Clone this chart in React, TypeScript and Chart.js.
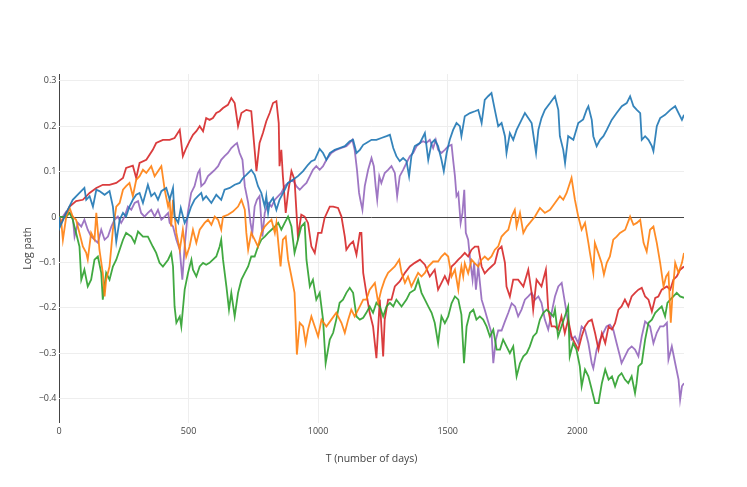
import React, { useEffect, useRef } from "react";
import Chart from "chart.js/auto";

type Pt = [number, number];

const traceColors = [
  "rgba(31,119,180,0.9)",
  "rgba(255,127,14,0.9)",
  "rgba(44,160,44,0.9)",
  "rgba(214,39,40,0.9)",
  "rgba(148,103,189,0.9)",
];
const xTicks = [0, 500, 1000, 1500, 2000];
const yTicks = [-0.4, -0.3, -0.2, -0.1, 0, 0.1, 0.2, 0.3];
const xMax = 2412;

// [day, log path]
const bluePath: Pt[] = [[0,0],[2,-0.024],[28,0.009],[53,0.038],[79,0.053],[98,0.064],[105,0.038],[118,0.046],[131,0.023],[144,0.060],[156,0.057],[176,0.049],[195,0.057],[208,0.023],[221,-0.054],[234,-0.006],[247,0.009],[259,0.001],[272,0.023],[285,0.038],[298,0.049],[311,0.053],[324,0.031],[343,0.071],[356,0.046],[369,0.053],[382,0.038],[395,0.057],[414,0.064],[427,0.038],[440,0.064],[446,0.001],[460,-0.013],[470,0.020],[485,-0.013],[497,0.001],[510,0.023],[523,0.038],[536,0.046],[549,0.053],[556,0.038],[568,0.046],[588,0.031],[607,0.049],[626,0.038],[639,0.060],[659,0.064],[678,0.071],[697,0.075],[710,0.086],[723,0.093],[742,0.104],[755,0.093],[768,0.068],[781,0.053],[794,0.023],[800,0.046],[807,0.009],[813,0.031],[826,0.042],[839,0.016],[851,0.038],[871,0.060],[884,0.075],[903,0.082],[922,0.090],[942,0.101],[961,0.115],[974,0.123],[987,0.126],[1006,0.150],[1019,0.141],[1032,0.126],[1045,0.141],[1064,0.148],[1083,0.152],[1103,0.156],[1122,0.167],[1135,0.170],[1148,0.141],[1161,0.148],[1174,0.159],[1186,0.163],[1206,0.170],[1225,0.170],[1244,0.174],[1264,0.178],[1277,0.181],[1290,0.152],[1302,0.134],[1315,0.123],[1328,0.130],[1341,0.123],[1351,0.090],[1360,0.134],[1373,0.156],[1393,0.163],[1412,0.185],[1425,0.126],[1438,0.163],[1450,0.170],[1463,0.156],[1476,0.126],[1485,0.101],[1496,0.141],[1508,0.170],[1521,0.192],[1534,0.207],[1547,0.200],[1553,0.178],[1566,0.222],[1586,0.229],[1605,0.233],[1618,0.236],[1631,0.207],[1643,0.258],[1656,0.266],[1669,0.273],[1682,0.236],[1695,0.200],[1708,0.207],[1721,0.178],[1727,0.141],[1740,0.185],[1753,0.170],[1766,0.192],[1785,0.214],[1798,0.229],[1811,0.218],[1824,0.207],[1841,0.141],[1850,0.192],[1862,0.218],[1875,0.236],[1895,0.251],[1914,0.266],[1927,0.236],[1933,0.178],[1946,0.148],[1953,0.119],[1965,0.178],[1985,0.170],[2004,0.207],[2023,0.215],[2036,0.236],[2043,0.244],[2056,0.214],[2062,0.178],[2075,0.156],[2088,0.170],[2101,0.178],[2114,0.192],[2133,0.214],[2152,0.229],[2172,0.244],[2191,0.251],[2204,0.266],[2217,0.244],[2230,0.236],[2243,0.229],[2249,0.170],[2262,0.178],[2275,0.170],[2288,0.156],[2294,0.145],[2307,0.200],[2320,0.218],[2339,0.225],[2359,0.236],[2378,0.244],[2391,0.229],[2404,0.214],[2412,0.225]];

const orangePath: Pt[] = [[0,0],[8,-0.006],[15,-0.050],[28,0.001],[41,0.020],[53,0.001],[66,-0.006],[79,-0.035],[92,-0.065],[105,-0.079],[111,-0.094],[124,-0.035],[137,-0.050],[144,0.009],[156,-0.072],[169,-0.123],[176,-0.175],[182,-0.138],[195,-0.109],[208,-0.028],[221,0.023],[234,0.031],[247,0.060],[259,0.068],[272,0.075],[285,0.046],[298,0.082],[311,0.090],[324,0.104],[337,0.097],[356,0.112],[369,0.090],[382,0.101],[395,0.112],[408,0.060],[421,0.023],[427,0.038],[433,-0.021],[440,0.038],[453,-0.035],[466,-0.072],[478,-0.028],[491,-0.087],[504,-0.065],[517,-0.028],[530,-0.057],[543,-0.028],[562,-0.013],[575,-0.006],[588,-0.017],[601,0.001],[614,-0.006],[626,-0.028],[633,0.001],[652,0.005],[671,0.012],[691,0.023],[704,0.038],[717,0.016],[723,-0.035],[730,-0.072],[742,-0.035],[755,-0.050],[768,-0.065],[781,-0.035],[794,-0.021],[807,-0.013],[820,-0.006],[833,-0.035],[839,-0.013],[850,-0.079],[855,-0.109],[864,-0.050],[875,-0.043],[884,-0.094],[897,-0.131],[909,-0.167],[918,-0.303],[929,-0.233],[942,-0.241],[952,-0.278],[961,-0.248],[974,-0.219],[987,-0.241],[1000,-0.263],[1013,-0.226],[1032,-0.241],[1051,-0.226],[1070,-0.211],[1090,-0.233],[1103,-0.255],[1116,-0.226],[1128,-0.204],[1141,-0.219],[1161,-0.197],[1174,-0.182],[1186,-0.182],[1199,-0.160],[1219,-0.145],[1232,-0.189],[1244,-0.160],[1257,-0.138],[1270,-0.123],[1283,-0.116],[1296,-0.109],[1313,-0.094],[1322,-0.123],[1335,-0.145],[1347,-0.131],[1360,-0.153],[1373,-0.138],[1386,-0.123],[1399,-0.131],[1412,-0.123],[1425,-0.109],[1444,-0.098],[1463,-0.098],[1476,-0.087],[1489,-0.080],[1502,-0.087],[1515,-0.131],[1528,-0.116],[1541,-0.160],[1547,-0.131],[1553,-0.109],[1560,-0.131],[1566,-0.102],[1579,-0.124],[1592,-0.094],[1605,-0.102],[1618,-0.109],[1631,-0.094],[1643,-0.087],[1656,-0.094],[1669,-0.087],[1682,-0.072],[1695,-0.065],[1708,-0.043],[1721,-0.035],[1734,-0.028],[1747,0.001],[1759,0.016],[1766,-0.021],[1779,0.009],[1792,-0.035],[1805,-0.021],[1817,-0.013],[1837,0.001],[1856,0.020],[1875,0.009],[1895,0.016],[1914,0.031],[1933,0.046],[1946,0.038],[1959,0.053],[1978,0.086],[1991,0.038],[2004,0.001],[2017,-0.028],[2030,-0.013],[2043,-0.057],[2049,-0.079],[2062,-0.123],[2068,-0.057],[2081,-0.079],[2094,-0.101],[2103,-0.127],[2114,-0.101],[2126,-0.087],[2139,-0.050],[2152,-0.043],[2165,-0.035],[2185,-0.028],[2204,0.001],[2217,-0.017],[2230,-0.013],[2243,-0.006],[2256,-0.057],[2268,-0.076],[2281,-0.028],[2294,-0.021],[2307,-0.057],[2320,-0.101],[2333,-0.153],[2343,-0.131],[2352,-0.123],[2361,-0.233],[2368,-0.167],[2378,-0.101],[2391,-0.123],[2404,-0.101],[2412,-0.079]];

const greenPath: Pt[] = [[0,0],[28,0.001],[41,0.009],[53,-0.006],[66,-0.035],[79,-0.065],[86,-0.138],[98,-0.116],[111,-0.153],[124,-0.138],[137,-0.094],[150,-0.087],[163,-0.123],[169,-0.182],[182,-0.123],[195,-0.138],[208,-0.109],[221,-0.094],[234,-0.072],[247,-0.050],[259,-0.035],[279,-0.043],[292,-0.057],[305,-0.032],[324,-0.043],[343,-0.043],[362,-0.065],[375,-0.079],[388,-0.101],[401,-0.109],[421,-0.094],[433,-0.079],[440,-0.109],[446,-0.197],[453,-0.233],[466,-0.219],[472,-0.241],[485,-0.160],[498,-0.123],[511,-0.094],[517,-0.116],[530,-0.131],[543,-0.109],[556,-0.101],[568,-0.105],[581,-0.101],[594,-0.094],[607,-0.087],[620,-0.065],[626,-0.050],[633,-0.094],[646,-0.153],[656,-0.204],[665,-0.167],[678,-0.219],[691,-0.167],[704,-0.138],[717,-0.123],[730,-0.109],[742,-0.087],[755,-0.087],[768,-0.065],[781,-0.050],[794,-0.043],[807,-0.035],[820,-0.028],[833,-0.021],[846,-0.013],[858,-0.028],[871,-0.013],[884,0.001],[897,-0.021],[909,-0.079],[922,-0.050],[935,-0.021],[948,-0.013],[955,-0.094],[968,-0.153],[980,-0.138],[993,-0.182],[1006,-0.167],[1019,-0.226],[1029,-0.322],[1045,-0.270],[1058,-0.255],[1070,-0.226],[1083,-0.189],[1096,-0.182],[1109,-0.167],[1122,-0.156],[1135,-0.167],[1148,-0.219],[1161,-0.226],[1174,-0.222],[1186,-0.211],[1199,-0.197],[1212,-0.211],[1225,-0.189],[1238,-0.197],[1251,-0.219],[1264,-0.197],[1277,-0.189],[1290,-0.197],[1302,-0.182],[1322,-0.197],[1341,-0.182],[1354,-0.167],[1373,-0.160],[1386,-0.138],[1399,-0.167],[1412,-0.182],[1425,-0.197],[1438,-0.211],[1450,-0.233],[1463,-0.278],[1476,-0.219],[1489,-0.234],[1502,-0.219],[1515,-0.190],[1528,-0.175],[1541,-0.182],[1553,-0.215],[1563,-0.322],[1573,-0.241],[1586,-0.211],[1599,-0.204],[1611,-0.226],[1624,-0.219],[1637,-0.226],[1650,-0.241],[1663,-0.263],[1676,-0.248],[1689,-0.292],[1702,-0.292],[1714,-0.270],[1727,-0.285],[1740,-0.300],[1753,-0.285],[1766,-0.351],[1779,-0.322],[1792,-0.307],[1805,-0.300],[1817,-0.285],[1830,-0.263],[1843,-0.255],[1856,-0.226],[1869,-0.211],[1882,-0.204],[1895,-0.211],[1908,-0.219],[1914,-0.204],[1926,-0.263],[1939,-0.241],[1952,-0.219],[1965,-0.197],[1971,-0.307],[1984,-0.278],[1997,-0.292],[2010,-0.329],[2017,-0.373],[2030,-0.336],[2043,-0.351],[2056,-0.380],[2069,-0.410],[2082,-0.410],[2095,-0.366],[2108,-0.336],[2121,-0.358],[2134,-0.351],[2146,-0.373],[2159,-0.351],[2171,-0.344],[2184,-0.358],[2197,-0.366],[2210,-0.351],[2223,-0.388],[2229,-0.366],[2236,-0.329],[2249,-0.322],[2262,-0.270],[2275,-0.233],[2288,-0.226],[2301,-0.211],[2313,-0.204],[2326,-0.197],[2339,-0.219],[2348,-0.189],[2359,-0.182],[2371,-0.175],[2384,-0.167],[2397,-0.175],[2412,-0.178]];

const redPath: Pt[] = [[0,0],[8,-0.013],[41,0.023],[66,0.035],[92,0.038],[118,0.053],[144,0.064],[169,0.071],[195,0.071],[221,0.075],[247,0.086],[259,0.108],[285,0.113],[298,0.086],[311,0.119],[337,0.126],[362,0.148],[375,0.163],[401,0.170],[427,0.170],[446,0.174],[466,0.192],[478,0.134],[491,0.152],[504,0.167],[517,0.181],[530,0.189],[543,0.200],[556,0.189],[568,0.218],[581,0.214],[594,0.218],[607,0.229],[620,0.233],[633,0.240],[652,0.247],[665,0.262],[678,0.251],[691,0.200],[704,0.229],[723,0.236],[742,0.233],[755,0.148],[762,0.101],[774,0.163],[787,0.185],[800,0.211],[813,0.229],[826,0.251],[839,0.255],[848,0.207],[851,0.112],[858,0.148],[864,0.090],[875,0.009],[884,0.053],[897,0.101],[909,0.082],[922,-0.043],[935,0.005],[948,0.001],[961,-0.013],[974,-0.065],[987,-0.079],[1000,-0.035],[1013,-0.035],[1025,-0.002],[1045,0.023],[1058,0.023],[1077,0.020],[1090,0.001],[1103,-0.043],[1109,-0.072],[1122,-0.061],[1135,-0.054],[1148,-0.083],[1161,-0.035],[1167,-0.035],[1174,-0.123],[1186,-0.167],[1199,-0.211],[1212,-0.241],[1225,-0.311],[1238,-0.182],[1251,-0.307],[1257,-0.226],[1270,-0.182],[1283,-0.182],[1296,-0.153],[1315,-0.142],[1335,-0.123],[1354,-0.109],[1373,-0.101],[1393,-0.094],[1412,-0.105],[1431,-0.131],[1450,-0.116],[1463,-0.160],[1476,-0.145],[1489,-0.130],[1502,-0.146],[1515,-0.109],[1528,-0.102],[1541,-0.094],[1553,-0.087],[1566,-0.079],[1579,-0.087],[1592,-0.072],[1605,-0.065],[1618,-0.065],[1631,-0.109],[1643,-0.124],[1656,-0.116],[1669,-0.109],[1682,-0.102],[1695,-0.072],[1708,-0.065],[1721,-0.101],[1727,-0.153],[1740,-0.175],[1753,-0.138],[1772,-0.138],[1792,-0.153],[1811,-0.116],[1824,-0.167],[1830,-0.204],[1843,-0.138],[1862,-0.153],[1879,-0.116],[1888,-0.204],[1901,-0.241],[1914,-0.241],[1926,-0.248],[1939,-0.219],[1952,-0.256],[1965,-0.226],[1978,-0.263],[1991,-0.278],[2004,-0.292],[2017,-0.263],[2030,-0.241],[2043,-0.230],[2056,-0.226],[2069,-0.256],[2082,-0.292],[2095,-0.256],[2108,-0.278],[2121,-0.241],[2134,-0.248],[2146,-0.234],[2159,-0.204],[2171,-0.197],[2184,-0.182],[2197,-0.197],[2210,-0.175],[2223,-0.167],[2236,-0.160],[2249,-0.156],[2262,-0.175],[2275,-0.182],[2288,-0.208],[2301,-0.178],[2313,-0.175],[2326,-0.160],[2346,-0.153],[2359,-0.160],[2371,-0.138],[2384,-0.131],[2397,-0.116],[2412,-0.109]];

const purplePath: Pt[] = [[0,0],[15,0.001],[28,0.012],[41,0.009],[53,0.001],[60,-0.043],[73,-0.013],[86,-0.021],[98,-0.006],[111,-0.028],[124,-0.043],[137,-0.050],[150,-0.057],[163,-0.028],[176,-0.050],[189,-0.043],[202,-0.021],[214,-0.006],[227,0.001],[240,-0.013],[253,0.001],[266,0.023],[279,0.016],[292,0.031],[305,0.035],[317,0.009],[330,0.001],[343,0.009],[356,0.016],[369,0.001],[382,0.016],[395,-0.006],[408,0.001],[421,0.009],[427,-0.013],[440,-0.021],[453,-0.050],[466,-0.072],[476,-0.138],[485,-0.065],[497,0.009],[510,0.053],[523,0.068],[536,0.097],[543,0.104],[549,0.068],[562,0.075],[575,0.090],[588,0.097],[601,0.104],[614,0.112],[626,0.126],[639,0.134],[652,0.141],[665,0.152],[678,0.159],[687,0.163],[697,0.141],[708,0.126],[717,0.068],[730,0.031],[739,-0.013],[746,-0.035],[755,0.023],[764,0.038],[774,0.046],[785,-0.043],[794,0.009],[807,0.031],[820,0.023],[833,0.038],[846,0.046],[858,0.053],[871,0.068],[884,0.075],[903,0.082],[916,0.068],[929,0.060],[942,0.068],[955,0.075],[968,0.090],[980,0.104],[993,0.112],[1006,0.104],[1019,0.112],[1032,0.126],[1051,0.141],[1070,0.148],[1090,0.152],[1109,0.156],[1122,0.163],[1132,0.170],[1141,0.148],[1150,0.104],[1158,0.053],[1163,0.038],[1171,0.016],[1180,0.068],[1193,0.104],[1206,0.130],[1215,0.112],[1222,0.068],[1228,0.038],[1236,0.090],[1244,0.075],[1257,0.097],[1270,0.104],[1283,0.112],[1296,0.097],[1305,0.046],[1315,0.090],[1328,0.104],[1341,0.119],[1354,0.134],[1367,0.141],[1380,0.156],[1393,0.163],[1405,0.167],[1418,0.163],[1431,0.170],[1444,0.152],[1454,0.170],[1463,0.148],[1476,0.141],[1489,0.148],[1502,0.156],[1515,0.159],[1521,0.126],[1528,0.090],[1534,0.046],[1541,0.053],[1550,-0.013],[1557,0.009],[1564,0.060],[1570,-0.035],[1579,-0.050],[1588,-0.101],[1596,-0.138],[1602,-0.101],[1609,-0.160],[1618,-0.109],[1631,-0.182],[1643,-0.204],[1656,-0.230],[1669,-0.255],[1676,-0.322],[1686,-0.270],[1695,-0.250],[1708,-0.250],[1721,-0.230],[1734,-0.211],[1747,-0.190],[1760,-0.197],[1772,-0.219],[1785,-0.204],[1798,-0.182],[1811,-0.175],[1824,-0.167],[1837,-0.182],[1850,-0.175],[1862,-0.189],[1875,-0.226],[1888,-0.248],[1901,-0.211],[1914,-0.175],[1927,-0.153],[1940,-0.145],[1953,-0.190],[1965,-0.234],[1978,-0.270],[1991,-0.263],[2004,-0.278],[2017,-0.241],[2030,-0.248],[2043,-0.278],[2056,-0.322],[2062,-0.333],[2075,-0.292],[2088,-0.270],[2100,-0.256],[2113,-0.241],[2126,-0.237],[2139,-0.248],[2152,-0.278],[2165,-0.307],[2171,-0.322],[2184,-0.307],[2197,-0.292],[2210,-0.285],[2223,-0.292],[2236,-0.307],[2249,-0.263],[2262,-0.230],[2268,-0.233],[2281,-0.241],[2294,-0.278],[2307,-0.255],[2320,-0.241],[2333,-0.241],[2346,-0.233],[2352,-0.314],[2365,-0.285],[2378,-0.322],[2391,-0.358],[2397,-0.402],[2404,-0.373],[2412,-0.366]];

const paths = [bluePath, orangePath, greenPath, redPath, purplePath];

const fmtY = (v: number) => {
  const r = Math.round(v * 10) / 10;
  if (r === 0) return "0";
  return (r < 0 ? "\u2212" : "") + Math.abs(r).toFixed(1);
};

export default function App() {
  const canvasRef = useRef<HTMLCanvasElement>(null);

  useEffect(() => {
    document.body.style.margin = "0";
    if (!canvasRef.current) return;
    const tickFont = { family: "'Open Sans', sans-serif", size: 9 };
    const titleFont = { family: "'Open Sans', sans-serif", size: 10.5 };

    const chart = new Chart(canvasRef.current, {
      type: "line",
      data: {
        datasets: paths.map((p, i) => ({
          label: `trace ${i}`,
          data: p as any,
          borderColor: traceColors[i],
          borderWidth: 1.8,
          pointRadius: 0,
          tension: 0,
          fill: false,
        })),
      },
      options: {
        responsive: false,
        animation: false,
        layout: { padding: { top: 74, right: 63, left: 0, bottom: 0 } },
        plugins: { legend: { display: false }, tooltip: { enabled: false } },
        scales: {
          x: {
            type: "linear",
            min: 0,
            max: xMax,
            afterFit: (s: any) => {
              s.height = 64;
            },
            afterBuildTicks: (s: any) => {
              s.ticks = xTicks.map((v) => ({ value: v }));
            },
            border: { display: false },
            grid: {
              drawTicks: false,
              color: (c: any) => (c.tick && c.tick.value === 0 ? "#444444" : "#eeeeee"),
              lineWidth: 1,
            },
            ticks: {
              padding: 3,
              color: "#444",
              font: tickFont,
              maxRotation: 0,
              callback: (v: any) => String(v),
            },
            title: {
              display: true,
              text: "T (number of days)",
              color: "#444",
              font: titleFont,
              padding: { top: 0, bottom: 21.7 },
            },
          },
          y: {
            type: "linear",
            min: -0.4537,
            max: 0.315,
            afterFit: (s: any) => {
              s.width = 59;
            },
            afterBuildTicks: (s: any) => {
              s.ticks = yTicks.map((v) => ({ value: v }));
            },
            border: { display: false },
            grid: {
              drawTicks: false,
              color: (c: any) => (c.tick && Math.abs(c.tick.value) < 1e-9 ? "#444444" : "#eeeeee"),
              lineWidth: 1,
            },
            ticks: {
              padding: 2.5,
              color: "#444",
              font: tickFont,
              callback: (v: any) => fmtY(Number(v)),
            },
            title: {
              display: true,
              text: "Log path",
              color: "#444",
              font: titleFont,
              padding: { top: 21.7, bottom: 0 },
            },
          },
        },
      },
    });

    return () => {
      chart.destroy();
    };
  }, []);

  return (
    <div style={{ width: 747, height: 487 }}>
      <canvas ref={canvasRef} width={747} height={487} />
    </div>
  );
}
